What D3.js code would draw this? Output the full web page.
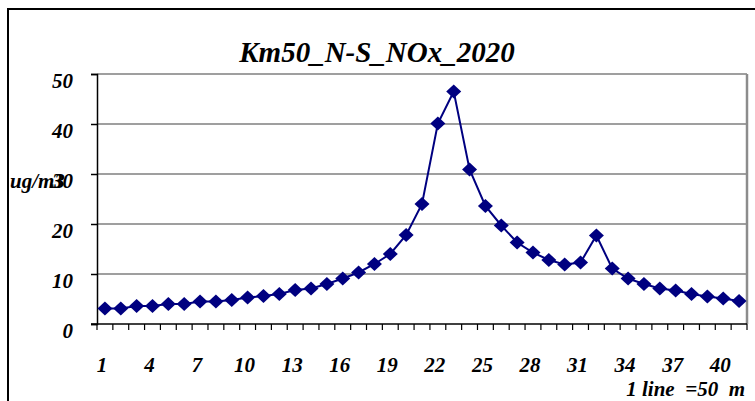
<!DOCTYPE html>
<html>
<head>
<meta charset="utf-8">
<script src="https://cdn.jsdelivr.net/npm/d3@7"></script>
<style>
  html, body { margin: 0; padding: 0; background: #fff; }
  svg { display: block; }
</style>
</head>
<body>
<svg id="chart" width="755" height="401"></svg>
<script>
// Line positions along the N-S transect (1 line = 50 m)
const categories = d3.range(1, 42);
// NOx concentration per line, ug/m3
const values = [
  3.1, 3.1, 3.6, 3.6, 4.0, 4.0, 4.5, 4.5, 4.8, 5.3,
  5.6, 6.0, 6.8, 7.1, 8.0, 9.1, 10.3, 12.0, 14.0, 17.8,
  24.0, 40.1, 46.5, 30.9, 23.6, 19.7, 16.3, 14.3, 12.8, 11.9,
  12.3, 17.7, 11.1, 9.1, 8.0, 7.1, 6.7, 6.0, 5.5, 5.1, 4.6
];
const yTicks = [0, 10, 20, 30, 40, 50];
const xTickLabels = [1, 4, 7, 10, 13, 16, 19, 22, 25, 28, 31, 34, 37, 40];
const title = "Km50_N-S_NOx_2020";
const yUnit = "ug/m3";
const xNote = "1 line  =50  m";

const FONT = "'Liberation Serif', 'Times New Roman', Times, serif";

const svg = d3.select("#chart")
  .attr("font-family", FONT)
  .attr("font-weight", "bold")
  .attr("font-style", "italic");
const plot = { left: 97, right: 747, top: 74, bottom: 324 };

const x = d3.scaleBand().domain(categories).range([plot.left, plot.right]).paddingInner(0).paddingOuter(0);
const y = d3.scaleLinear().domain([0, 50]).range([plot.bottom, plot.top]);
const cx = d => x(d) + x.bandwidth() / 2;

// outer frame
svg.append("path")
  .attr("d", `M8,401 V9 H755`)
  .attr("fill", "none").attr("stroke", "#000").attr("stroke-width", 2);

// title
svg.append("text")
  .attr("x", 377).attr("y", 62)
  .attr("text-anchor", "middle")
  .attr("font-size", 29)
  .text(title);

// horizontal gridlines
svg.append("g").selectAll("line")
  .data(yTicks.filter(t => t > 0))
  .join("line")
  .attr("x1", plot.left).attr("x2", plot.right)
  .attr("y1", d => y(d)).attr("y2", d => y(d))
  .attr("stroke", "#7f7f7f").attr("stroke-width", 1.5);

// right border of plot area
svg.append("line")
  .attr("x1", plot.right).attr("x2", plot.right)
  .attr("y1", plot.top).attr("y2", plot.bottom)
  .attr("stroke", "#8c8c8c").attr("stroke-width", 2.5);

// y axis
const yAxis = d3.axisLeft(y).tickValues(yTicks).tickSize(6).tickFormat("");
const gy = svg.append("g").attr("transform", `translate(${plot.left},0)`).call(yAxis);
gy.select(".domain").attr("stroke", "#000").attr("stroke-width", 1.5);
gy.selectAll(".tick line").attr("stroke", "#000").attr("stroke-width", 1.5);

svg.append("g").selectAll("text")
  .data(yTicks)
  .join("text")
  .attr("x", 73).attr("y", d => y(d) + 14)
  .attr("text-anchor", "end")
  .attr("font-size", 21)
  .text(d => d);

// x axis: ticks at category boundaries
const boundaries = categories.map(c => x(c)).concat([plot.right]);
svg.append("line")
  .attr("x1", plot.left - 6).attr("x2", plot.right)
  .attr("y1", plot.bottom).attr("y2", plot.bottom)
  .attr("stroke", "#000").attr("stroke-width", 1.5);
svg.append("g").selectAll("line")
  .data(boundaries)
  .join("line")
  .attr("x1", d => d).attr("x2", d => d)
  .attr("y1", plot.bottom).attr("y2", plot.bottom + 6)
  .attr("stroke", "#000").attr("stroke-width", 1.2);

svg.append("g").selectAll("text")
  .data(xTickLabels)
  .join("text")
  .attr("x", d => cx(d) - 3).attr("y", 372)
  .attr("text-anchor", "middle")
  .attr("font-size", 21)
  .text(d => d);

// axis captions
svg.append("text")
  .attr("x", 10).attr("y", 188)
  .attr("font-size", 21)
  .text(yUnit);

svg.append("text")
  .attr("x", 745).attr("y", 396)
  .attr("text-anchor", "end")
  .attr("font-size", 21)
  .attr("xml:space", "preserve")
  .style("white-space", "pre")
  .text(xNote);

// series line
const line = d3.line().x((d, i) => cx(categories[i])).y(d => y(d));
svg.append("path")
  .datum(values)
  .attr("d", line)
  .attr("fill", "none")
  .attr("stroke", "#000080")
  .attr("stroke-width", 2);

// diamond markers
svg.append("g").selectAll("path")
  .data(values)
  .join("path")
  .attr("transform", (d, i) => `translate(${cx(categories[i])},${y(d)})`)
  .attr("d", "M0,-7 L7.5,0 L0,7 L-7.5,0 Z")
  .attr("fill", "#000080");
</script>
</body>
</html>
